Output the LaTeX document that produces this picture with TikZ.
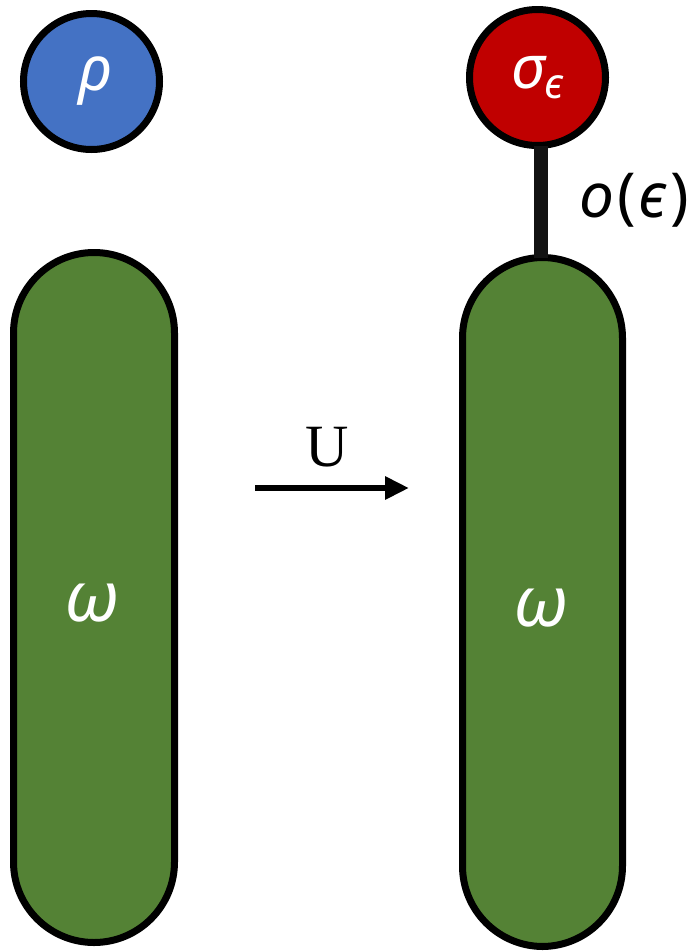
\documentclass[tikz,border=0pt]{standalone}
\usepackage{fontspec}
\setmainfont{Liberation Serif}
\newfontfamily\grk{Noto Sans}
\usetikzlibrary{arrows.meta}
\definecolor{cblue}{HTML}{4472C4}
\definecolor{cred}{HTML}{C00000}
\definecolor{cgreen}{HTML}{548235}
\tikzset{
  ball/.style={circle, draw=black, line width=7pt, minimum size=136pt, inner sep=0pt, text=white},
  tube/.style={draw=black, line width=7pt, fill=cgreen, rounded corners=80.5pt},
  gtext/.style={text=white, font=\grk\itshape\fontsize{70}{70}\selectfont},
}
\begin{document}
\begin{tikzpicture}[x=1pt,y=-1pt]
\useasboundingbox (0,0) rectangle (697,951);
\node[ball, fill=cblue, font=\grk\itshape\fontsize{62}{62}\selectfont] (rho) at (91.5,81.5) {\hspace{8pt}\raisebox{-5pt}{ρ}};
\node[ball, fill=cred, font=\grk\itshape\fontsize{60}{60}\selectfont] (sig) at (537.5,77.5) {σ\raisebox{-10pt}{\fontsize{42}{42}\selectfont ϵ}};
\filldraw[tube] (13.5,252.5) rectangle (174.5,942.5);
\filldraw[tube] (462.5,257.5) rectangle (622.5,946.5);
\coordinate (ltop) at (94,252.5);
\coordinate (rtop) at (541,257.5);
\coordinate (stemtop) at (541,146);
\node[gtext] (w1) at (92,603) {ω};
\node[gtext] (w2) at (541,608) {ω};
\draw[line width=14pt, draw=black!93] (stemtop) -- (rtop);
\node[font=\grk\fontsize{62}{62}\selectfont, anchor=west, inner sep=0pt] (oe) at (579,200) {\textit{o}\hspace{3pt}(\hspace{3pt}\textit{ϵ}\hspace{3pt})};
\coordinate (as) at (255,488);
\coordinate (ae) at (409,488);
\draw[line width=6pt, -{Triangle[length=24pt,width=22pt]}] (as) -- (ae);
\node[font=\fontsize{60}{60}\selectfont] (U) at (327,447) {U};
\end{tikzpicture}
\end{document}
